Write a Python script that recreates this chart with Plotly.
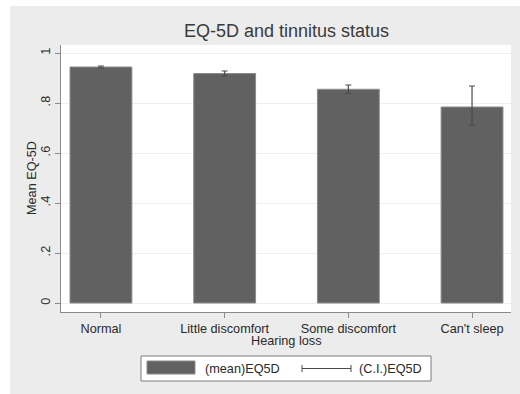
import plotly.graph_objects as go

# Mean EQ-5D score by tinnitus status, with 95% confidence intervals
categories = ["Normal", "Little discomfort", "Some discomfort", "Can't sleep"]
mean_eq5d = [0.944, 0.918, 0.855, 0.784]
ci_low = [0.940, 0.908, 0.838, 0.712]
ci_high = [0.948, 0.928, 0.872, 0.868]
y_ticks = [0, 0.2, 0.4, 0.6, 0.8, 1.0]
y_tick_labels = ["0", ".2", ".4", ".6", ".8", "1"]

W, H = 520, 394
L, R, T, B = 61, 9, 45, 82
PW, PH = W - L - R, H - T - B


def px(x):
    return (x - L) / PW


def py(y):
    return (H - B - y) / PH


err_plus = [h - m for h, m in zip(ci_high, mean_eq5d)]
err_minus = [m - l for m, l in zip(mean_eq5d, ci_low)]

bar_fill = "#616161"
text_col = "#2a2a2a"
fs = 12.7

fig = go.Figure()
fig.add_trace(go.Bar(
    x=categories, y=mean_eq5d, width=0.5,
    marker=dict(color=bar_fill, line=dict(color="#8c8c8c", width=1)),
    error_y=dict(type="data", symmetric=False, array=err_plus,
                 arrayminus=err_minus, color="#4a4a4a", thickness=1.2, width=3),
    showlegend=False, name="(mean)EQ5D",
))

shapes = [
    # white strips at the left and top edges of the image
    dict(type="rect", xref="paper", yref="paper", x0=px(0), x1=px(10),
         y0=py(H), y1=py(0), fillcolor="white", line_width=0, layer="below"),
    dict(type="rect", xref="paper", yref="paper", x0=px(0), x1=px(W),
         y0=py(6), y1=py(0), fillcolor="white", line_width=0, layer="below"),
    # legend box
    dict(type="rect", xref="paper", yref="paper", x0=px(141), x1=px(431),
         y0=py(381), y1=py(356), fillcolor="white",
         line=dict(color="#7a7a7a", width=1)),
    # bar swatch
    dict(type="rect", xref="paper", yref="paper", x0=px(147), x1=px(195),
         y0=py(374), y1=py(361), fillcolor=bar_fill,
         line=dict(color="#8c8c8c", width=1)),
    # CI symbol: horizontal line with caps
    dict(type="line", xref="paper", yref="paper", x0=px(302), x1=px(351),
         y0=py(368.5), y1=py(368.5), line=dict(color="#4a4a4a", width=1)),
    dict(type="line", xref="paper", yref="paper", x0=px(302), x1=px(302),
         y0=py(365), y1=py(372), line=dict(color="#4a4a4a", width=1)),
    dict(type="line", xref="paper", yref="paper", x0=px(351), x1=px(351),
         y0=py(365), y1=py(372), line=dict(color="#4a4a4a", width=1)),
]

annotations = [
    dict(text="EQ-5D and tinnitus status", xref="paper", yref="paper",
         x=0.5, y=py(31), xanchor="center", yanchor="middle", showarrow=False,
         font=dict(size=18, color="#3a3a3a")),
    dict(text="Mean EQ-5D", xref="paper", yref="paper", x=px(32), y=py(178),
         xanchor="center", yanchor="middle", textangle=-90, showarrow=False,
         font=dict(size=fs, color=text_col)),
    dict(text="Hearing loss", xref="paper", yref="paper", x=0.5, y=py(341),
         xanchor="center", yanchor="middle", showarrow=False,
         font=dict(size=fs, color=text_col)),
    dict(text="(mean)EQ5D", xref="paper", yref="paper", x=px(203), y=py(368.5),
         xanchor="left", yanchor="middle", showarrow=False,
         font=dict(size=fs, color=text_col)),
    dict(text="(C.I.)EQ5D", xref="paper", yref="paper", x=px(357), y=py(368.5),
         xanchor="left", yanchor="middle", showarrow=False,
         font=dict(size=fs, color=text_col)),
]

fig.update_layout(
    width=W, height=H, autosize=False,
    margin=dict(l=L, r=R, t=T, b=B, pad=0),
    paper_bgcolor="#ececec", plot_bgcolor="white",
    font=dict(family="Liberation Sans, Arial, sans-serif", size=fs, color=text_col),
    shapes=shapes, annotations=annotations, bargap=0.5,
)
fig.update_xaxes(
    type="category", range=[-0.323, 3.315], showgrid=False, zeroline=False,
    showline=True, linecolor="#8a8a8a", linewidth=1,
    ticks="outside", ticklen=5, tickcolor="#8a8a8a",
    tickfont=dict(size=fs, color=text_col), automargin=False,
)
fig.update_yaxes(
    range=[-0.036, 1.032], tickvals=y_ticks, ticktext=y_tick_labels,
    tickangle=-90, showgrid=True, gridcolor="#eeeeee", gridwidth=1,
    zeroline=False, showline=True, linecolor="#8a8a8a", linewidth=1,
    ticks="outside", ticklen=5, tickcolor="#8a8a8a",
    tickfont=dict(size=fs, color=text_col), automargin=False,
)

fig.write_html("out.html")
